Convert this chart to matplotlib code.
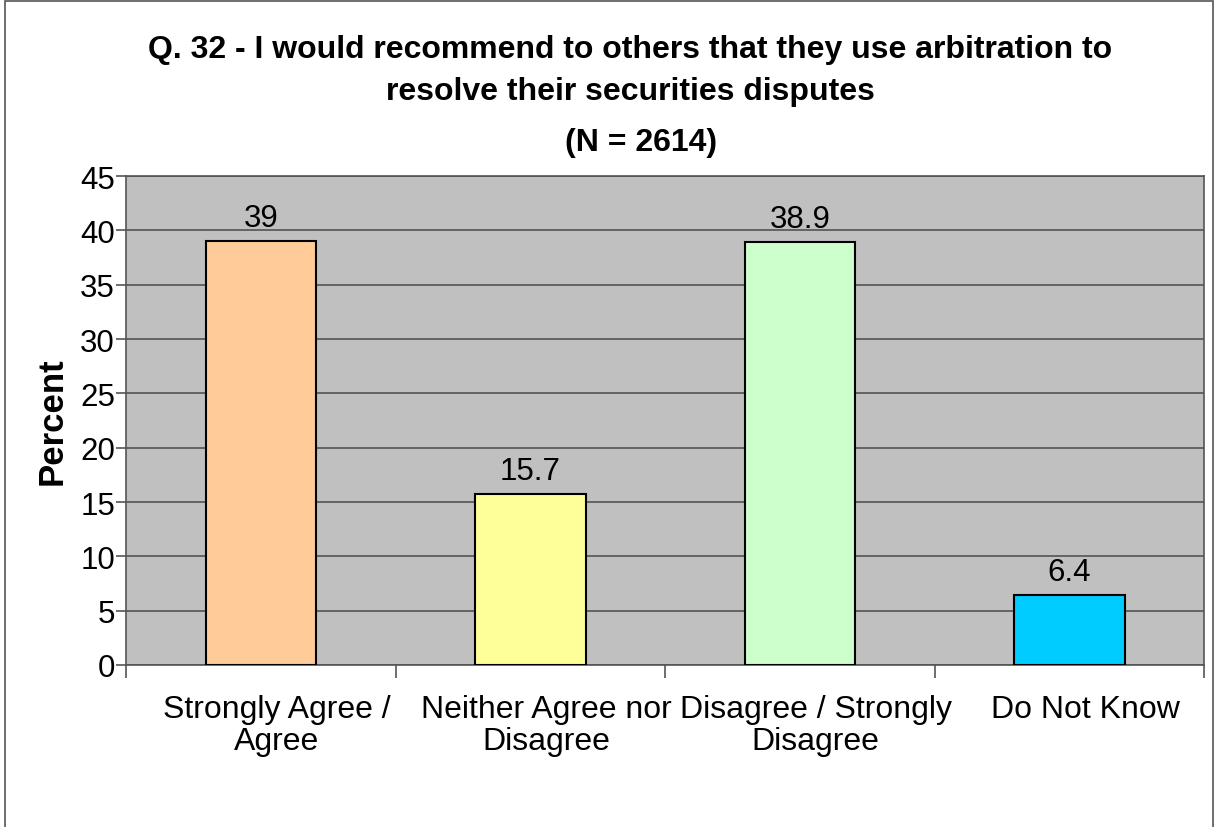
import numpy as np
import matplotlib.pyplot as plt
import matplotlib.transforms as mtransforms
from matplotlib.patches import Rectangle

# data
categories = ["Strongly Agree /\nAgree", "Neither Agree nor\nDisagree",
              "Disagree / Strongly\nDisagree", "Do Not Know"]
percent = [39, 15.7, 38.9, 6.4]
value_labels = ["39", "15.7", "38.9", "6.4"]
bar_colors = ["#FFCC99", "#FFFF99", "#CCFFCC", "#00CCFF"]

plt.rcParams["font.family"] = ["Liberation Sans", "DejaVu Sans"]

fig = plt.figure(figsize=(12.15, 8.28), dpi=100)
ax = fig.add_axes([0.1037, 0.1957, 0.8873, 0.5903])

x = np.arange(len(categories))
ax.set_facecolor("#C0C0C0")
ax.bar(x, percent, width=0.41, color=bar_colors, edgecolor="black",
       linewidth=1.5, zorder=3)

for xi, v, lab in zip(x, percent, value_labels):
    ax.text(xi, v + 0.8, lab, ha="center", va="bottom", fontsize=22.5, zorder=4)

ax.set_xlim(-0.5, 3.5)
ax.set_ylim(0, 45)
ax.set_yticks(np.arange(0, 46, 5))
ax.yaxis.grid(True, color="#4a4a4a", linewidth=1.1, zorder=1)
ax.set_axisbelow(True)

# category labels between boundary ticks (Excel renders them a bit right of centre)
ax.set_xticks(x)
ax.set_xticklabels(categories, fontsize=23, linespacing=1.08)
ax.tick_params(axis="x", which="major", length=0, pad=21)
shift = mtransforms.ScaledTranslation(0.16, 0, fig.dpi_scale_trans)
for lbl in ax.get_xticklabels():
    lbl.set_transform(lbl.get_transform() + shift)
ax.set_xticks(np.arange(-0.5, 3.6, 1.0), minor=True)
ax.tick_params(axis="x", which="minor", length=9, width=1.2, color="#555555")
ax.tick_params(axis="y", length=7, width=1.2, color="#555555",
               labelsize=22.5, pad=1)

for s in ax.spines.values():
    s.set_color("#555555")
    s.set_linewidth(1.2)

ax.set_ylabel("Percent", fontsize=25, fontweight="bold", labelpad=8)

fig.text(0.5185, 0.940, "Q. 32 - I would recommend to others that they use arbitration to",
         ha="center", va="center", fontsize=23, fontweight="bold")
fig.text(0.5185, 0.889, "resolve their securities disputes",
         ha="center", va="center", fontsize=23, fontweight="bold")
fig.text(0.5276, 0.827, "(N = 2614)",
         ha="center", va="center", fontsize=23, fontweight="bold")

# outer chart frame
fig.patches.append(Rectangle((0.004, -0.01), 0.994, 1.007,
                             transform=fig.transFigure, fill=False,
                             edgecolor="#555555", linewidth=1.2))

fig.savefig("out.png", dpi=100)
